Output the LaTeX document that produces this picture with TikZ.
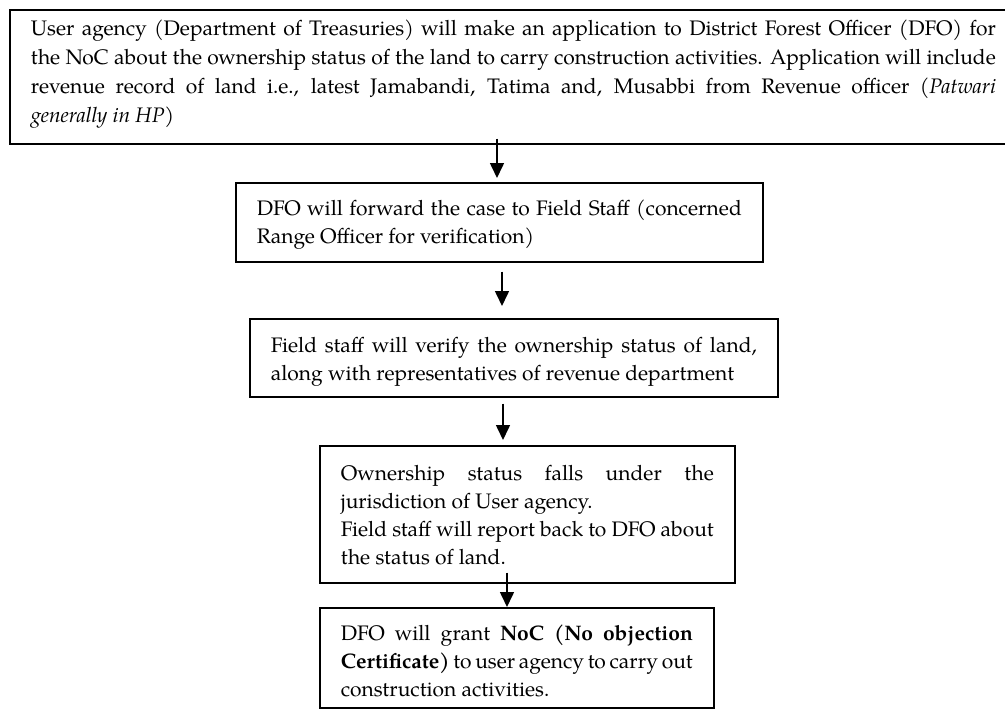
\documentclass[tikz,border=0pt]{standalone}
\usepackage{fontspec}
\setmainfont{TeX Gyre Pagella}
\usetikzlibrary{arrows.meta,calc}
\begin{document}
\begin{tikzpicture}[x=1pt,y=-1pt,
  box/.style={draw, line width=1.7pt, anchor=north west, inner xsep=21pt, inner ysep=0pt,
    align=justify, font=\fontsize{21}{28}\selectfont},
  arr/.style={line width=1.6pt, -{Triangle[length=15pt,width=14pt]}}]
\useasboundingbox (0,0) rectangle (1005,712);

\node[box, text width=965pt, font=\fontsize{21}{29}\selectfont] (b1) at (9,9)
  {\rule{0pt}{26pt}User agency (Department of Treasuries) will make an application to District Forest Officer (DFO) for\linebreak
   the NoC about the ownership status of the land to carry construction activities. Application will include\linebreak
   revenue record of land i.e., latest Jamabandi, Tatima and, Musabbi from Revenue officer (\textit{Patwari}\linebreak
   \textit{generally in HP})\rule[-21pt]{0pt}{21pt}};

\node[box, text width=485pt] (b2) at (235,182)
  {\rule{0pt}{33pt}DFO will forward the case to Field Staff (concerned\linebreak
   Range Officer for verification)\rule[-18pt]{0pt}{18pt}};

\node[box, text width=486pt] (b3) at (249,318)
  {\rule{0pt}{34pt}Field staff will verify the ownership status of land,\linebreak
   along with representatives of revenue department\rule[-16pt]{0pt}{16pt}};

\node[box, text width=373pt] (b4) at (319,445)
  {\rule{0pt}{35pt}Ownership status falls under the\linebreak
   jurisdiction of User agency.\\
   Field staff will report back to DFO about\linebreak
   the status of land.\rule[-18pt]{0pt}{18pt}};

\node[box, text width=352pt] (b5) at (319,607)
  {\rule{0pt}{33pt}DFO will grant \textbf{NoC (No objection\linebreak
   Certificate)} to user agency to carry out\linebreak
   construction activities.\rule[-11pt]{0pt}{11pt}};

\coordinate (x1) at (497,0);
\coordinate (x2) at (502,0);
\coordinate (x3) at (503,0);
\coordinate (x4) at (507,0);

\draw[arr, shorten <=-6pt, shorten >=4pt] (x1 |- b1.south) -- (x1 |- b2.north);
\draw[arr, shorten <=9pt, shorten >=12pt] (x2 |- b2.south) -- (x2 |- b3.north);
\draw[arr, shorten <=6pt, shorten >=5pt] (x3 |- b3.south) -- (x3 |- b4.north);
\draw[arr, shorten <=-11pt] (x4 |- b4.south) -- (x4 |- b5.north);
\end{tikzpicture}
\end{document}
